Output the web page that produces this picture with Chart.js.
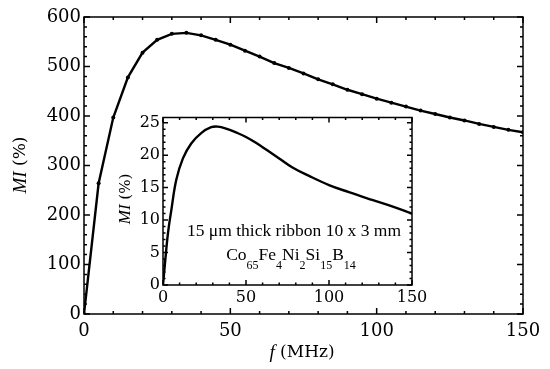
<!DOCTYPE html>
<html>
<head>
<meta charset="utf-8">
<script src="https://cdn.jsdelivr.net/npm/chart.js@4/dist/chart.umd.min.js"></script>
<style>
  html, body { margin: 0; padding: 0; background: #fff; }
  #wrap { position: relative; width: 550px; height: 369px; }
  #wrap canvas { position: absolute; left: 0; top: 0; }
</style>
</head>
<body>
<div id="wrap">
  <canvas id="main" width="550" height="369"></canvas>
  <canvas id="inset" width="550" height="369"></canvas>
</div>
<script>
// main curve, one point every 5 MHz
const freq = [0, 5, 10, 15, 20, 25, 30, 35, 40, 45, 50, 55, 60, 65, 70, 75,
  80, 85, 90, 95, 100, 105, 110, 115, 120, 125, 130, 135, 140, 145, 150];
const mi = [0, 264, 397, 478, 528, 554, 566, 568, 563, 554, 544, 532, 520, 507, 497, 486,
  474, 464, 453, 444, 435, 427, 419, 411, 404, 397, 391, 384, 378, 372, 367];

// inset curve (smooth, no markers)
const insetFreq = [0, 1, 3, 5, 8, 12, 17, 23, 29, 33, 38, 44, 50, 56, 63, 70, 78, 88, 100, 112, 126, 138, 150];
const insetMi = [0, 2.8, 8.0, 11.5, 16.2, 19.5, 21.8, 23.4, 24.3, 24.4, 24.1, 23.5, 22.8, 21.9,
  20.7, 19.5, 18.1, 16.8, 15.4, 14.3, 13.1, 12.1, 11.0];

const mainXTicks = [0, 50, 100, 150];
const mainYTicks = [0, 100, 200, 300, 400, 500, 600];
const insetXTicks = [0, 50, 100, 150];
const insetYTicks = [0, 5, 10, 15, 20, 25];

const toPts = (xs, ys) => xs.map((x, i) => ({ x, y: ys[i] }));
const setTicks = arr => scale => { scale.ticks = arr.map(v => ({ value: v })); };

// box with inward ticks on all four sides
const frameTicks = {
  id: 'frameTicks',
  beforeDraw(chart, args, o) {
    if (!o.fill) return;
    const { ctx, chartArea: a } = chart;
    ctx.save();
    ctx.fillStyle = '#fff';
    ctx.fillRect(a.left, a.top, a.right - a.left, a.bottom - a.top);
    ctx.restore();
  },
  afterDraw(chart, args, o) {
    const { ctx, chartArea: a, scales: { x, y } } = chart;
    ctx.save();
    ctx.strokeStyle = '#000';
    ctx.lineWidth = o.lw;
    ctx.strokeRect(a.left, a.top, a.right - a.left, a.bottom - a.top);
    ctx.beginPath();
    for (let v = o.x0; v <= o.x1 + 1e-9; v += o.xMinor) {
      const len = Math.abs(v / o.xMajor - Math.round(v / o.xMajor)) < 1e-6 ? o.major : o.minor;
      const px = x.getPixelForValue(v);
      ctx.moveTo(px, a.bottom); ctx.lineTo(px, a.bottom - len);
      ctx.moveTo(px, a.top); ctx.lineTo(px, a.top + len);
    }
    for (let v = o.y0; v <= o.y1 + 1e-9; v += o.yMinor) {
      const len = Math.abs(v / o.yMajor - Math.round(v / o.yMajor)) < 1e-6 ? o.major : o.minor;
      const py = y.getPixelForValue(v);
      ctx.moveTo(a.left, py); ctx.lineTo(a.left + len, py);
      ctx.moveTo(a.right, py); ctx.lineTo(a.right - len, py);
    }
    ctx.stroke();
    ctx.restore();
  }
};

// "MI (%)" and "f (MHz)" titles with italic symbols
function drawTitle(ctx, parts, cx, cy, rotate) {
  ctx.save();
  ctx.translate(cx, cy);
  if (rotate) ctx.rotate(-Math.PI / 2);
  let total = 0;
  parts.forEach(p => { ctx.font = p.font; total += ctx.measureText(p.text).width; });
  let x = -total / 2;
  ctx.fillStyle = '#000';
  ctx.textBaseline = 'middle';
  parts.forEach(p => {
    ctx.font = p.font;
    ctx.fillText(p.text, x, p.dy || 0);
    x += ctx.measureText(p.text).width;
  });
  ctx.restore();
}

const mainTitles = {
  id: 'mainTitles',
  afterDraw(chart) {
    const ctx = chart.ctx;
    drawTitle(ctx, [
      { text: 'MI', font: 'italic 19px "Liberation Serif"' },
      { text: ' (%)', font: '17px "DejaVu Serif"' }
    ], 21, 165, true);
    drawTitle(ctx, [
      { text: 'f', font: 'italic 19px "Liberation Serif"' },
      { text: ' (MHz)', font: '17px "DejaVu Serif"' }
    ], 302, 353, false);
  }
};

const insetTitles = {
  id: 'insetTitles',
  afterDraw(chart) {
    const ctx = chart.ctx;
    drawTitle(ctx, [
      { text: 'MI', font: 'italic 17px "Liberation Serif"' },
      { text: ' (%)', font: '15px "DejaVu Serif"' }
    ], 126, 199, true);
    ctx.save();
    ctx.fillStyle = '#000';
    ctx.textBaseline = 'alphabetic';
    ctx.textAlign = 'center';
    ctx.font = '17.5px "Liberation Serif"';
    ctx.fillText('15 \u03bcm thick ribbon 10 x 3 mm', 294, 236);
    // formula with subscripts
    const segs = [['Co', '65'], ['Fe', '4'], ['Ni', '2'], ['Si', '15'], ['B', '14']];
    const big = '17.5px "Liberation Serif"', small = '12px "Liberation Serif"';
    let w = 0;
    segs.forEach(([e, n]) => {
      ctx.font = big; w += ctx.measureText(e).width;
      ctx.font = small; w += ctx.measureText(n).width;
    });
    let x = 291 - w / 2;
    ctx.textAlign = 'left';
    segs.forEach(([e, n]) => {
      ctx.font = big; ctx.fillText(e, x, 260); x += ctx.measureText(e).width;
      ctx.font = small; ctx.fillText(n, x, 269); x += ctx.measureText(n).width;
    });
    ctx.restore();
  }
};

new Chart(document.getElementById('main'), {
  type: 'line',
  data: {
    datasets: [{
      data: toPts(freq, mi),
      borderColor: '#000',
      backgroundColor: '#000',
      borderWidth: 2.4,
      pointRadius: 2,
      pointBorderWidth: 0,
      tension: 0
    }]
  },
  options: {
    responsive: false,
    animation: false,
    layout: { padding: { left: 0, top: 17, right: 27, bottom: 0 } },
    plugins: {
      legend: { display: false },
      tooltip: { enabled: false },
      frameTicks: { lw: 1.5, major: 6, minor: 3, x0: 0, x1: 150, xMajor: 50, xMinor: 10,
        y0: 0, y1: 600, yMajor: 100, yMinor: 20 }
    },
    scales: {
      x: {
        type: 'linear', min: 0, max: 150,
        afterBuildTicks: setTicks(mainXTicks),
        afterFit: s => { s.height = 55; },
        grid: { display: false, drawTicks: false },
        border: { display: false },
        ticks: { padding: 7, color: '#000', maxRotation: 0, font: { family: 'DejaVu Serif', size: 18 } }
      },
      y: {
        min: 0, max: 600,
        afterBuildTicks: setTicks(mainYTicks),
        afterFit: s => { s.width = 84; },
        grid: { display: false, drawTicks: false },
        border: { display: false },
        ticks: { padding: 3, color: '#000', font: { family: 'DejaVu Serif', size: 18 } }
      }
    }
  },
  plugins: [frameTicks, mainTitles]
});

new Chart(document.getElementById('inset'), {
  type: 'line',
  data: {
    datasets: [{
      data: toPts(insetFreq, insetMi),
      borderColor: '#000',
      borderWidth: 2.4,
      pointRadius: 0,
      tension: 0.4
    }]
  },
  options: {
    responsive: false,
    animation: false,
    layout: { padding: { left: 0, top: 117.5, right: 138, bottom: 0 } },
    plugins: {
      legend: { display: false },
      tooltip: { enabled: false },
      frameTicks: { fill: true, lw: 1.5, major: 5, minor: 2.5, x0: 0, x1: 150, xMajor: 50, xMinor: 10,
        y0: 0, y1: 25, yMajor: 5, yMinor: 1 }
    },
    scales: {
      x: {
        type: 'linear', min: 0, max: 150,
        afterBuildTicks: setTicks(insetXTicks),
        afterFit: s => { s.height = 84; },
        grid: { display: false, drawTicks: false },
        border: { display: false },
        ticks: { padding: 3, color: '#000', maxRotation: 0, font: { family: 'DejaVu Serif', size: 16 } }
      },
      y: {
        min: 0, max: 25.8,
        afterBuildTicks: setTicks(insetYTicks),
        afterFit: s => { s.width = 163; },
        grid: { display: false, drawTicks: false },
        border: { display: false },
        ticks: { padding: 3, color: '#000', font: { family: 'DejaVu Serif', size: 16 } }
      }
    }
  },
  plugins: [frameTicks, insetTitles]
});
</script>
</body>
</html>
